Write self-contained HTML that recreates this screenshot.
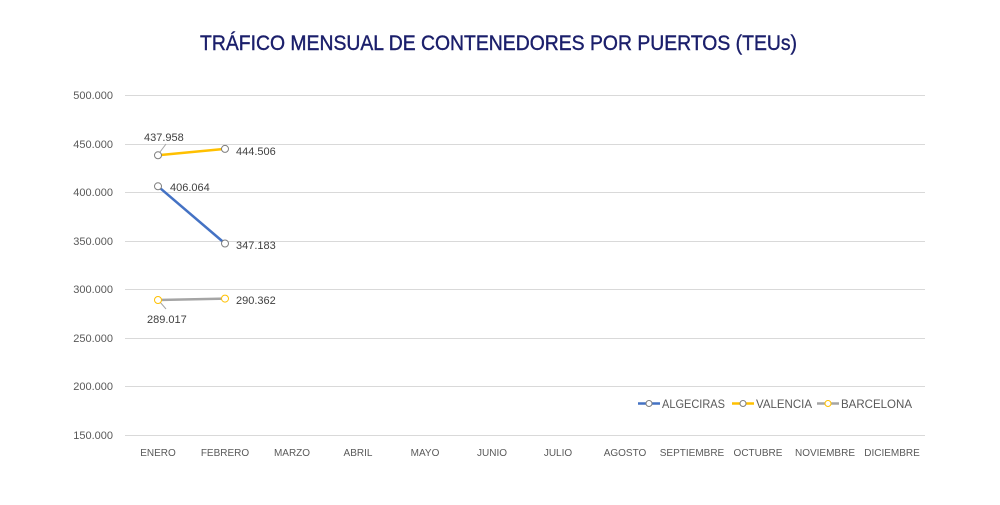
<!DOCTYPE html>
<html><head><meta charset="utf-8"><style>
body{margin:0;background:#fff;width:1000px;height:500px;overflow:hidden;font-family:"Liberation Sans",sans-serif}
</style></head><body>
<svg width="1000" height="500" xmlns="http://www.w3.org/2000/svg" font-family="Liberation Sans, sans-serif">
<text x="200" y="50" font-size="21" fill="#1b1f6b" textLength="597" lengthAdjust="spacingAndGlyphs" stroke="#1b1f6b" stroke-width="0.4">TRÁFICO MENSUAL DE CONTENEDORES POR PUERTOS (TEUs)</text>
<g stroke="#d9d9d9" stroke-width="1">
<line x1="125" x2="925" y1="95.5" y2="95.5"/><line x1="125" x2="925" y1="144.5" y2="144.5"/>
<line x1="125" x2="925" y1="192.5" y2="192.5"/><line x1="125" x2="925" y1="241.5" y2="241.5"/>
<line x1="125" x2="925" y1="289.5" y2="289.5"/><line x1="125" x2="925" y1="338.5" y2="338.5"/>
<line x1="125" x2="925" y1="386.5" y2="386.5"/><line x1="125" x2="925" y1="435.5" y2="435.5"/>
</g>
<g font-size="11" fill="#595959" text-anchor="end">
<text x="113" y="99">500.000</text><text x="113" y="148">450.000</text><text x="113" y="196">400.000</text>
<text x="113" y="245">350.000</text><text x="113" y="293">300.000</text><text x="113" y="342">250.000</text>
<text x="113" y="390">200.000</text><text x="113" y="439">150.000</text>
</g>
<g font-size="10" fill="#595959" text-anchor="middle">
<text x="158" y="456">ENERO</text><text x="225" y="456">FEBRERO</text><text x="292" y="456">MARZO</text>
<text x="358" y="456">ABRIL</text><text x="425" y="456">MAYO</text><text x="492" y="456">JUNIO</text>
<text x="558" y="456">JULIO</text><text x="625" y="456">AGOSTO</text><text x="692" y="456">SEPTIEMBRE</text>
<text x="758" y="456">OCTUBRE</text><text x="825" y="456">NOVIEMBRE</text><text x="892" y="456">DICIEMBRE</text>
</g>
<line x1="158" y1="155.3" x2="225" y2="148.9" stroke="#ffc000" stroke-width="2.5"/>
<line x1="158" y1="186.3" x2="225" y2="243.5" stroke="#4472c4" stroke-width="2.5"/>
<line x1="158" y1="300" x2="225" y2="298.6" stroke="#a5a5a5" stroke-width="2.5"/>
<line x1="160" y1="152" x2="166" y2="144" stroke="#a5a5a5"/>
<line x1="160" y1="302" x2="166" y2="309" stroke="#a5a5a5"/>
<g fill="#fff" stroke-width="1">
<circle cx="158" cy="155.3" r="3.5" stroke="#7f7f7f"/><circle cx="225" cy="148.9" r="3.5" stroke="#7f7f7f"/>
<circle cx="158" cy="186.3" r="3.5" stroke="#7f7f7f"/><circle cx="225" cy="243.5" r="3.5" stroke="#7f7f7f"/>
<circle cx="158" cy="300" r="3.5" stroke="#ffc000"/><circle cx="225" cy="298.6" r="3.5" stroke="#ffc000"/>
</g>
<g font-size="11" fill="#404040">
<text x="144" y="141">437.958</text><text x="236" y="155">444.506</text>
<text x="170" y="191">406.064</text><text x="236" y="249">347.183</text>
<text x="236" y="304">290.362</text><text x="147" y="323">289.017</text>
</g>
<g font-size="12" fill="#595959">
<line x1="638" x2="660" y1="403.5" y2="403.5" stroke="#4472c4" stroke-width="2.5"/><circle cx="649" cy="403.5" r="3" fill="#fff" stroke="#7f7f7f"/>
<text x="662" y="408" textLength="63" lengthAdjust="spacingAndGlyphs">ALGECIRAS</text>
<line x1="732" x2="754" y1="403.5" y2="403.5" stroke="#ffc000" stroke-width="2.5"/><circle cx="743" cy="403.5" r="3" fill="#fff" stroke="#7f7f7f"/>
<text x="756" y="408" textLength="56" lengthAdjust="spacingAndGlyphs">VALENCIA</text>
<line x1="817" x2="839" y1="403.5" y2="403.5" stroke="#a5a5a5" stroke-width="2.5"/><circle cx="828" cy="403.5" r="3" fill="#fff" stroke="#ffc000"/>
<text x="841" y="408" textLength="71" lengthAdjust="spacingAndGlyphs">BARCELONA</text>
</g>
</svg>
</body></html>
